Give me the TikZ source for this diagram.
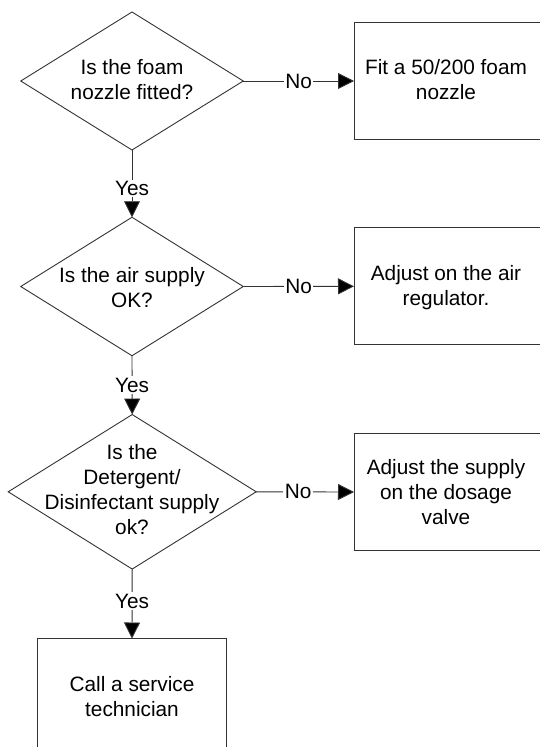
\documentclass[tikz,border=0pt]{standalone}
\usepackage{fontspec}
\setmainfont{Liberation Sans}
\usetikzlibrary{shapes.geometric,arrows.meta}
\begin{document}
\begin{tikzpicture}[x=1pt,y=-1pt,
  linecol/.style={draw=black!80, line width=0.9pt},
  dec/.style={linecol, shape=diamond, inner sep=0pt, outer sep=0pt},
  txt/.style={font=\fontsize{20.8}{25}\selectfont, align=center, inner sep=0pt},
  procbox/.style={linecol, rectangle, inner sep=0pt, outer sep=0pt, minimum width=189pt, minimum height=117pt},
  conn/.style={linecol, -{Triangle[length=16pt,width=16pt,fill=black]}},
  lab/.style={font=\fontsize{20.8}{25}\selectfont, fill=white, inner sep=1.5pt}
]
\useasboundingbox (0,0) rectangle (540,747);
\fill[white] (0,0) rectangle (540,747);

% decisions
\node[dec, minimum width=222.5pt, minimum height=138pt] (d1) at (132,81) {};
\node[txt] (d1t) at (132,79.5) {Is the foam\\nozzle fitted?};
\node[dec, minimum width=222.5pt, minimum height=138.5pt] (d2) at (132,286.5) {};
\node[txt] (d2t) at (132,287.3) {Is the air supply\\OK?};
\node[dec, minimum width=248pt, minimum height=154.5pt] (d3) at (132.2,491.8) {};
\node[txt] (d3t) at (132,490) {Is the\\Detergent/\\Disinfectant supply\\ok?};

% process boxes
\node[procbox] (b1) at (448.5,81) {};
\node[txt] (b1t) at (446,79.5) {Fit a 50/200 foam\\nozzle};
\node[procbox] (b2) at (448.5,286.3) {};
\node[txt] (b2t) at (446,287.3) {Adjust on the air\\regulator.};
\node[procbox] (b3) at (448.5,492) {};
\node[txt] (b3t) at (446,492.2) {Adjust the supply\\on the dosage\\valve};
\node[procbox] (b4) at (132,697) {};
\node[txt] (b4t) at (132,697) {Call a service\\technician};

% connectors
\draw[conn] (d1.east) -- node[lab, pos=0.5] {No} (b1.west);
\draw[conn] (d2.east) -- node[lab, pos=0.5] {No} (b2.west);
\draw[conn] (d3.east) -- node[lab, pos=0.43] {No} (b3.west);
\draw[conn] (d1.south) -- node[lab, pos=0.57] {Yes} (d2.north);
\draw[conn] (d2.south) -- node[lab, pos=0.5] {Yes} (d3.north);
\draw[conn] (d3.south) -- node[lab, pos=0.46] {Yes} (b4.north);
\end{tikzpicture}
\end{document}
